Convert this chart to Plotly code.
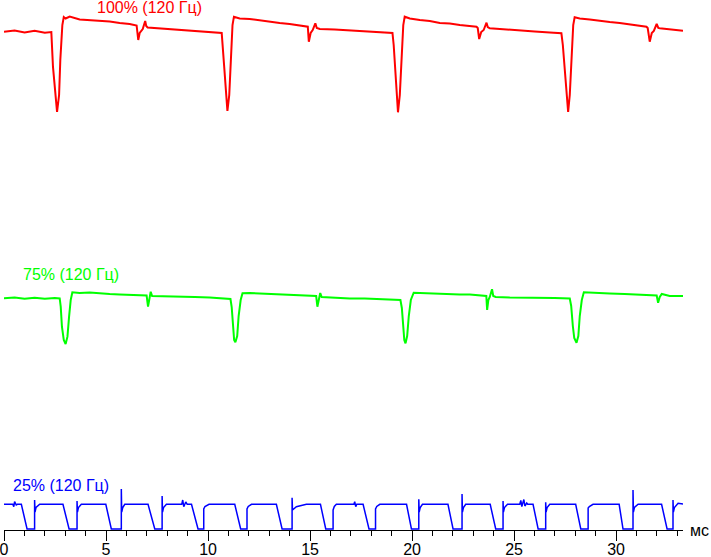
import plotly.graph_objects as go

# ---- data (time in ms, brightness in arbitrary units) ----
red_t = [0.00, 0.52, 1.01, 1.50, 2.00, 2.32,
         2.40, 2.49, 2.60, 2.70, 2.76, 2.86, 2.93,
         3.02, 3.22, 3.71, 4.20, 4.69, 5.18, 5.67, 6.16, 6.50,
         6.58, 6.65, 6.80, 6.92, 6.97, 7.04,
         7.63, 8.37, 9.10, 9.84, 10.33, 10.67,
         10.79, 10.87, 10.95, 11.04, 11.11, 11.20, 11.27,
         11.55, 12.04, 12.53, 13.02, 13.51, 14.00, 14.49, 14.89,
         14.94, 15.03, 15.13, 15.26, 15.33, 15.48,
         16.21, 16.95, 17.68, 18.42, 19.04,
         19.10, 19.18, 19.23, 19.31, 19.40, 19.47, 19.57, 19.64,
         19.89, 20.38, 20.87, 21.36, 21.85, 22.34, 22.83, 23.16,
         23.22, 23.29, 23.39, 23.51, 23.65, 23.71, 23.81,
         24.54, 25.28, 26.01, 26.75, 27.32,
         27.39, 27.48, 27.56, 27.65, 27.73, 27.80, 27.90, 27.97,
         28.22, 28.71, 29.20, 29.69, 30.18, 30.67, 31.16, 31.49,
         31.55, 31.65, 31.75, 31.85, 31.99, 32.07, 32.14,
         32.63, 33.28]
red_v = [497.3, 498.5, 496.5, 498.2, 496.2, 497.0,
         462.3, 439.0, 417.0, 434.0, 469.0, 504.0, 512.0,
         510.5, 512.5, 509.5, 509.0, 508.0, 507.5, 506.0, 505.0, 503.5,
         489.0, 496.0, 500.0, 508.0, 503.0, 501.5,
         500.5, 499.5, 498.5, 497.5, 496.0, 496.0,
         463.0, 439.0, 418.0, 434.0, 469.0, 504.0, 512.3,
         510.5, 510.0, 508.5, 507.5, 506.0, 505.0, 503.5, 502.3,
         487.3, 496.0, 499.0, 505.7, 501.0, 500.0,
         499.5, 498.5, 498.0, 496.5, 496.0,
         484.0, 459.0, 439.0, 416.7, 434.0, 469.0, 504.0, 512.3,
         510.5, 509.0, 508.0, 506.0, 505.5, 504.0, 503.0, 502.3,
         501.0, 490.0, 497.0, 499.0, 506.3, 502.0, 500.7,
         499.5, 498.0, 497.5, 496.5, 495.7,
         484.0, 459.0, 439.0, 417.0, 434.0, 469.0, 504.0, 511.7,
         510.5, 509.5, 508.0, 507.0, 506.0, 504.5, 503.0, 502.3,
         501.0, 487.3, 496.0, 498.0, 505.0, 501.0, 500.7,
         499.5, 498.3]

green_t = [0.00, 0.52, 1.01, 1.50, 2.00, 2.49, 2.73,
           2.78, 2.84, 2.93, 3.02, 3.11, 3.19, 3.27, 3.35,
           3.71, 4.20, 4.69, 5.18, 5.67, 6.16, 6.65, 6.99,
           7.06, 7.12, 7.19, 7.26,
           7.88, 8.61, 9.35, 10.08, 10.67, 11.10,
           11.16, 11.23, 11.28, 11.34, 11.43, 11.50, 11.60, 11.69,
           12.04, 12.53, 13.02, 13.51, 14.00, 14.49, 15.08, 15.30,
           15.36, 15.43, 15.50, 15.57,
           16.21, 16.95, 17.68, 18.42, 19.43,
           19.50, 19.56, 19.62, 19.68, 19.76, 19.84, 19.94, 20.08,
           20.38, 20.87, 21.36, 21.85, 22.34, 22.83, 23.32, 23.64,
           23.68, 23.74, 23.81, 23.92, 23.98, 24.10,
           24.79, 25.52, 26.26, 26.99, 27.73,
           27.80, 27.88, 27.95, 28.06, 28.15, 28.22, 28.32, 28.42,
           28.96, 29.69, 30.42, 31.16, 31.99,
           32.06, 32.14, 32.24, 32.63, 33.28]
green_v = [230.7, 231.5, 230.2, 231.2, 230.2, 231.0, 230.5,
           222.3, 202.3, 189.0, 185.0, 192.3, 212.3, 229.0, 236.7,
           236.0, 236.5, 235.5, 235.0, 234.5, 234.0, 233.5, 233.5,
           222.3, 231.0, 237.3, 233.0,
           232.5, 232.0, 232.0, 231.5, 230.5, 230.0,
           222.0, 202.0, 189.0, 186.7, 193.0, 213.0, 229.0, 235.7,
           236.0, 235.5, 235.0, 234.5, 234.0, 233.5, 233.0, 233.0,
           222.3, 231.0, 236.0, 232.0,
           231.0, 230.5, 230.5, 230.0, 229.0,
           221.0, 201.0, 189.0, 185.7, 193.0, 213.0, 229.0, 236.3,
           236.0, 235.5, 235.0, 235.0, 234.5, 234.5, 233.5, 233.0,
           219.0, 229.0, 232.0, 239.7, 233.0, 232.0,
           231.5, 231.5, 231.0, 231.0, 230.5,
           223.0, 203.0, 191.0, 186.3, 193.0, 213.0, 229.0, 236.7,
           236.0, 235.5, 235.0, 234.0, 233.5,
           226.3, 232.0, 235.0, 233.0, 233.0]

blue_t = [0.00, 0.43, 0.48, 0.52, 0.60, 0.65, 0.85, 1.13,
          1.50, 1.50, 1.52, 1.57, 1.75, 2.89, 3.19,
          3.58, 3.58, 3.60, 3.65, 3.79, 4.99, 5.26,
          5.75, 5.75, 5.77, 5.82, 5.92, 7.06, 7.39,
          7.75, 7.75, 7.77, 7.82, 7.96, 8.71, 8.76, 8.81, 8.91, 8.98, 9.19, 9.51,
          9.79, 9.79, 9.85, 10.05, 11.31, 11.60,
          11.91, 11.91, 11.97, 12.13, 13.35, 13.63,
          14.12, 14.12, 14.14, 14.33, 14.82, 15.51, 15.77,
          16.13, 16.13, 16.19, 16.29, 17.15, 17.19, 17.24, 17.29, 17.60, 17.89,
          18.21, 18.21, 18.27, 18.42, 19.73, 19.97,
          20.33, 20.33, 20.35, 20.40, 20.51, 21.76, 22.01,
          22.45, 22.45, 22.47, 22.52, 22.63, 23.83, 24.10,
          24.46, 24.46, 24.48, 24.53, 24.68, 25.28, 25.33, 25.38, 25.48, 25.53, 25.62, 25.67, 25.93, 26.18,
          26.55, 26.55, 26.57, 26.62, 26.75, 28.02, 28.27,
          28.63, 28.63, 28.69, 28.87, 30.15, 30.34,
          30.83, 30.83, 30.85, 30.90, 31.08, 32.23, 32.50,
          32.79, 32.79, 32.81, 32.86, 33.04, 33.28]
blue_v = [24.7, 24.7, 22.3, 27.3, 24.0, 24.7, 24.7, 0,
          0, 29.0, 17.0, 21.5, 24.7, 24.7, 0,
          0, 28.0, 17.0, 21.5, 24.7, 24.7, 0,
          0, 40.0, 17.0, 21.5, 24.7, 24.7, 0,
          0, 33.0, 17.0, 21.5, 24.7, 24.7, 29.0, 22.3, 27.0, 24.7, 24.7, 0,
          0, 20.0, 22.5, 24.7, 24.7, 0,
          0, 20.0, 22.5, 24.7, 24.7, 0,
          0, 31.3, 19.0, 22.3, 24.7, 24.7, 0,
          0, 19.0, 22.5, 24.7, 24.7, 27.3, 22.3, 24.7, 24.7, 0,
          0, 20.0, 22.5, 24.7, 24.7, 0,
          0, 29.7, 17.0, 21.5, 24.7, 24.7, 0,
          0, 35.0, 17.0, 21.5, 24.7, 24.7, 0,
          0, 28.0, 17.0, 21.5, 24.7, 24.7, 28.5, 22.5, 29.5, 23.0, 26.0, 24.7, 24.7, 0,
          0, 26.7, 17.0, 21.5, 24.7, 24.7, 0,
          0, 21.0, 22.5, 24.7, 24.7, 0,
          0, 39.0, 17.0, 21.5, 24.7, 24.7, 0,
          0, 29.0, 17.0, 21.5, 25.7, 25.0]

series_names = ["100% (120 Гц)", "75% (120 Гц)", "25% (120 Гц)"]
x_tick_vals = [0, 5, 10, 15, 20, 25, 30]
x_unit = "мс"

colors = ["#ff0000", "#00ff00", "#0000ff"]
FONT = "Liberation Sans, Arial, sans-serif"

fig = go.Figure()
for t, v, c, w in [(red_t, red_v, colors[0], 2), (green_t, green_v, colors[1], 2),
                   (blue_t, blue_v, colors[2], 1.5)]:
    fig.add_trace(go.Scatter(x=t, y=v, mode="lines",
                             line=dict(color=c, width=w), hoverinfo="skip",
                             showlegend=False))

label_pos = [(4.48, 522), (0.85, 255), (0.36, 44)]
for name, (lx, ly), c in zip(series_names, label_pos, colors):
    fig.add_annotation(x=lx, y=ly, xref="x", yref="y", text=name,
                       showarrow=False, xanchor="left", yanchor="middle",
                       font=dict(family=FONT, size=16, color=c))

fig.add_annotation(x=1, y=0, xref="paper", yref="paper", text=x_unit,
                   showarrow=False, xanchor="left", yanchor="middle", xshift=5,
                   font=dict(family=FONT, size=16, color="#000000"))

fig.update_xaxes(range=[0, 33.28], tickvals=x_tick_vals, automargin=False,
                 ticks="outside", ticklen=10, tickwidth=1, tickcolor="#000000",
                 ticklabelstandoff=-5, ticklabeloverflow="allow",
                 minor=dict(dtick=1, tick0=0, ticks="outside", ticklen=5,
                            tickwidth=1, tickcolor="#000000", showgrid=False),
                 showline=True, linecolor="#000000", linewidth=1,
                 showgrid=False, zeroline=False, layer="below traces",
                 tickfont=dict(family=FONT, size=16, color="#000000"))
fig.update_yaxes(range=[-1, 529], visible=False, showgrid=False, zeroline=False,
                 automargin=False)

fig.update_layout(width=711, height=557,
                  margin=dict(l=4, r=28, t=0, b=27, autoexpand=False),
                  paper_bgcolor="#ffffff", plot_bgcolor="#ffffff")

fig.write_html("out.html", config={"displayModeBar": False},
               post_script="document.body.style.margin='0';"
                           "document.body.style.overflow='hidden';")
